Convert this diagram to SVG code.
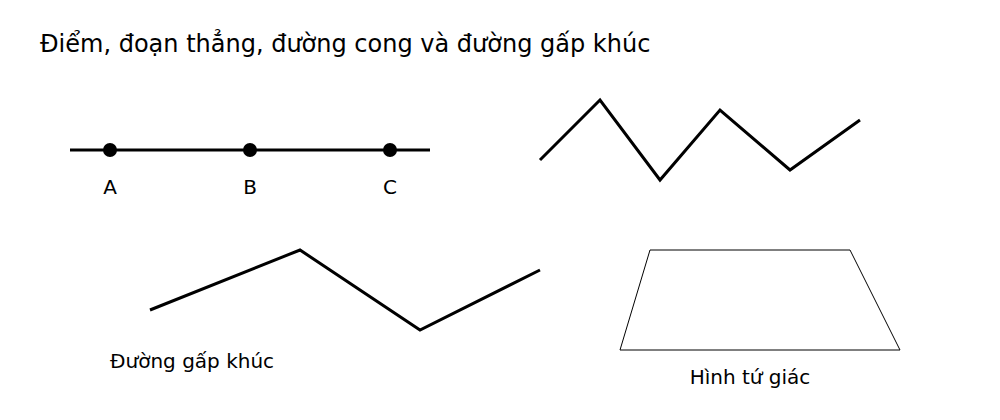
<svg xmlns="http://www.w3.org/2000/svg" width="1000" height="420" viewBox="0 0 1000 420">
<style>
text{font-family:"DejaVu Sans",sans-serif;fill:#000}
.t{font-size:24px}
.l{font-size:20px}
.thick{fill:none;stroke:#000;stroke-width:3}
.thin{fill:none;stroke:#000;stroke-width:1}
</style>
<rect width="1000" height="420" fill="#fff"/>
<text class="t" x="40" y="52">Điểm, đoạn thẳng, đường cong và đường gấp khúc</text>
<g id="segment">
<line class="thick" x1="70" y1="150" x2="430" y2="150"/>
<circle cx="110" cy="150" r="7"/>
<circle cx="250" cy="150" r="7"/>
<circle cx="390" cy="150" r="7"/>
<text class="l" x="110" y="194" text-anchor="middle">A</text>
<text class="l" x="250" y="194" text-anchor="middle">B</text>
<text class="l" x="390" y="194" text-anchor="middle">C</text>
</g>
<g id="zigzag">
<polyline class="thick" points="540,160 600,100 660,180 720,110 790,170 860,120"/>
</g>
<g id="polyline">
<polyline class="thick" points="150,310 300,250 420,330 540,270"/>
<text class="l" x="110" y="368">Đường gấp khúc</text>
</g>
<g id="quad">
<polygon class="thin" points="650,250 850,250 900,350 620,350"/>
<text class="l" x="750" y="384" text-anchor="middle">Hình tứ giác</text>
</g>
</svg>
